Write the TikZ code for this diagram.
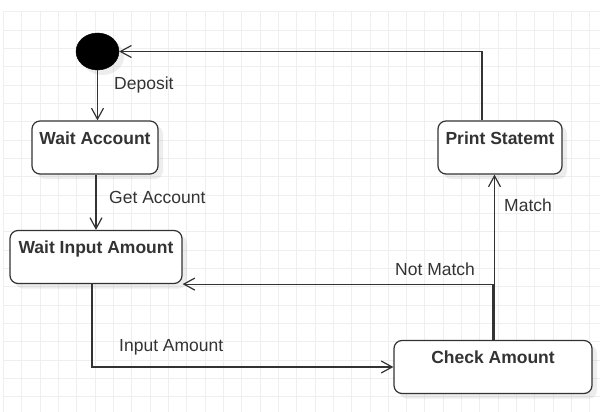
\documentclass[tikz,border=0pt]{standalone}
\usepackage{fontspec}
\setmainfont{Liberation Sans}
\usepackage{tikz}
\usetikzlibrary{arrows.meta,shapes.geometric,shadows}
\definecolor{inkgrey}{HTML}{333333}
\definecolor{gridgrey}{HTML}{EFEFEF}
\tikzset{
	state/.style={draw=inkgrey, line width=1.2pt, rounded corners=8pt, fill=white,
		inner xsep=0pt, inner ysep=0pt, text height=23pt, text depth=30pt,
		font=\fontsize{17.5}{21}\selectfont\bfseries, text=inkgrey,
		drop shadow={shadow xshift=5pt, shadow yshift=-5pt, fill=black, opacity=0.07}},
	trans/.style={draw=inkgrey, line width=1.2pt, -{Straight Barb[length=11pt,width=12pt,line width=1.2pt]}},
	guard/.style={anchor=west, inner sep=0pt, text=inkgrey, font=\fontsize{17.5}{21}\selectfont}
}

\begin{document}
\begin{tikzpicture}[x=1pt, y=-1pt]
			%%%%% START %%%%%
			\useasboundingbox (0, 0) rectangle (600, 412);
			
			\foreach \i in {0,...,32}
				\draw[gridgrey, line width=0.8pt] (3.3+18.33*\i, 11.7) -- (3.3+18.33*\i, 412);
			\foreach \j in {0,...,21}
				\draw[gridgrey, line width=0.8pt] (3.3, 11.7+18.33*\j) -- (600, 11.7+18.33*\j);
			
			\node[draw=black, ellipse, fill=black, minimum width=43pt, minimum height=37pt, inner sep=0pt,
				drop shadow={shadow xshift=5pt, shadow yshift=-5pt, fill=black, opacity=0.07}] (init) at (97.5, 51.5) {};
			
			\node[state, minimum width=126pt] (waitacc) at (95, 147.5) {Wait Account};
			\node[state, minimum width=172pt] (waitinput) at (96, 257) {Wait Input Amount};
			\node[state, minimum width=124pt] (print) at (500, 147.5) {Print Statemt};
			\node[state, minimum width=198pt] (check) at (493, 367) {Check Amount};
			
			\draw[trans] (init.south) -- (init.south |- waitacc.north);
			\draw[trans] ([xshift=1pt]waitacc.south) -- ([xshift=1pt]waitacc.south |- waitinput.north);
			\draw[trans] ([xshift=-4pt]waitinput.south) |- (check.west);
			\draw[trans] (check.north) |- (waitinput.south east);
			\draw[trans] ([xshift=1.5pt]check.north) -- ([xshift=1.5pt]check.north |- print.south);
			\draw[trans] ([xshift=-18pt]print.north) |- (init.east);
			
			\node[guard] (deposit) at (114, 85) {Deposit};
			\node[guard] (getacc) at (109, 197) {Get Account};
			\node[guard] (inputamt) at (119, 347) {Input Amount};
			\node[guard] (notmatch) at (395, 269) {Not Match};
			\node[guard] (match) at (504, 205) {Match};
			
			%%%%% END %%%%%
		\end{tikzpicture}
\end{document}
